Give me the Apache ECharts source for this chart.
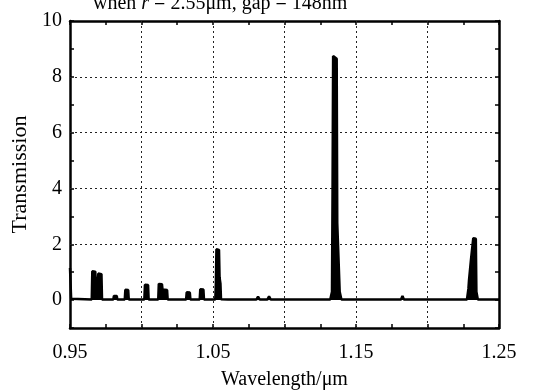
<!DOCTYPE html>
<html>
<head>
<meta charset="utf-8">
<script src="https://cdn.jsdelivr.net/npm/echarts@6/dist/echarts.min.js"></script>
<style>html,body{margin:0;padding:0;background:#fff}#c{width:539px;height:390px}</style>
</head>
<body>
<div id="c"></div>
<script>
// Wavelength (um) and transmission samples
var wavelength = [
  0.9500,0.9504,0.9508,0.9520,
  0.9652,0.9656,0.9677,0.9681,
  0.9694,0.9698,0.9720,0.9724,
  0.9803,0.9807,0.9827,0.9831,
  0.9883,0.9887,0.9907,0.9911,
  1.0020,1.0024,1.0046,1.0050,
  1.0117,1.0121,1.0143,1.0147,1.0179,1.0183,
  1.0312,1.0316,1.0338,1.0342,
  1.0407,1.0411,1.0433,1.0437,
  1.0516,1.0520,1.0524,1.0542,1.0546,1.0552,1.0556,
  1.0605,1.0613,1.0621,
  1.0803,1.0815,1.0827,
  1.0880,1.0892,1.0904,
  1.0944,1.0950,1.0956,
  1.1275,1.1280,1.1285,
  1.1320,1.1332,1.1336,1.1340,1.1365,1.1369,1.1382,1.1386,1.1398,
  1.1815,1.1825,1.1835,
  1.2276,1.2286,1.2290,1.2300,1.2304,1.2316,1.2320,1.2338,1.2342,1.2352,
  1.2500
];
var transmission = [
  1.15,1.12,0.05,0.02,
  0.02,1.03,1.02,0.02,
  0.02,0.95,0.93,0.02,
  0.02,0.15,0.15,0.02,
  0.02,0.37,0.36,0.02,
  0.02,0.55,0.54,0.02,
  0.02,0.58,0.57,0.38,0.36,0.02,
  0.02,0.28,0.27,0.02,
  0.02,0.39,0.38,0.02,
  0.02,0.60,1.82,1.80,0.80,0.60,0.03,
  0.02,0.09,0.02,
  0.02,0.12,0.02,
  0.02,0.13,0.02,
  0.02,0.06,0.02,
  0.02,0.07,0.02,
  0.02,0.30,3.90,8.75,8.65,2.75,2.70,0.30,0.02,
  0.02,0.15,0.02,
  0.02,0.40,0.70,0.70,1.45,1.45,2.22,2.20,0.30,0.02,
  0.02
];
var xLabelValues = [0.95, 1.05, 1.15, 1.25];
var yLabelValues = [0, 2, 4, 6, 8, 10];
var xGridValues = [1.00, 1.05, 1.10, 1.15, 1.20];
var yGridValues = [2, 4, 6, 8];

var FONT = 'Liberation Serif';
var data = wavelength.map(function (w, i) { return [w, transmission[i]]; });
var gridStyle = { color: '#222', width: 1, type: [2, 3] };
var markData = xGridValues.map(function (v) { return { xAxis: v }; })
  .concat(yGridValues.map(function (v) { return { yAxis: v }; }));

function xFmt(v) {
  var r = Math.round(v * 1000);
  for (var i = 0; i < xLabelValues.length; i++) {
    if (Math.round(xLabelValues[i] * 1000) === r) return xLabelValues[i].toFixed(2);
  }
  return '';
}
function yFmt(v) {
  var r = Math.round(v);
  return yLabelValues.indexOf(r) >= 0 ? String(r) : '';
}

var chart = echarts.init(document.getElementById('c'), null, { renderer: 'canvas' });
var axisLine = { show: true, onZero: false, lineStyle: { color: '#000', width: 2.5 } };
var tick = { show: true, inside: true, length: 4, lineStyle: { color: '#000', width: 1.5 } };
chart.setOption({
  animation: false,
  backgroundColor: '#fff',
  grid: { left: 70, right: 40, top: 21, bottom: 62, containLabel: false, outerBoundsMode: 'none' },
  graphic: [{
    type: 'text', left: 93, top: -6,
    style: {
      text: '{a|when }{i|r}{a| = 2.55\u03bcm, gap = 148nm}',
      rich: {
        a: { fontFamily: FONT, fontSize: 20, fill: '#000' },
        i: { fontFamily: FONT, fontSize: 20, fontStyle: 'italic', fill: '#000' }
      }
    }
  }],
  xAxis: [{
    type: 'value', min: 0.95, max: 1.25, interval: 0.025, position: 'bottom',
    name: 'Wavelength/\u03bcm', nameLocation: 'middle', nameGap: 42,
    nameTextStyle: { fontFamily: FONT, fontSize: 20, color: '#000' },
    axisLine: axisLine, axisTick: tick,
    axisLabel: { formatter: xFmt, fontFamily: FONT, fontSize: 20, color: '#000', margin: 15, showMinLabel: true, showMaxLabel: true, hideOverlap: false },
    splitLine: { show: false }
  }, {
    type: 'value', min: 0.95, max: 1.25, interval: 0.025, position: 'top',
    axisLine: axisLine, axisTick: tick, axisLabel: { show: false }, splitLine: { show: false }
  }],
  yAxis: [{
    type: 'value', min: -1, max: 10, interval: 1, position: 'left',
    name: 'Transmission', nameLocation: 'middle', nameGap: 39, nameRotate: 90,
    nameTextStyle: { fontFamily: FONT, fontSize: 22, color: '#000' },
    axisLine: axisLine, axisTick: tick,
    axisLabel: { formatter: yFmt, fontFamily: FONT, fontSize: 20, color: '#000', margin: 8, showMinLabel: true, showMaxLabel: true },
    splitLine: { show: false }
  }, {
    type: 'value', min: -1, max: 10, interval: 1, position: 'right',
    axisLine: axisLine, axisTick: tick, axisLabel: { show: false }, splitLine: { show: false }
  }],
  series: [{
    type: 'line', xAxisIndex: 0, yAxisIndex: 0, data: data,
    symbol: 'none', silent: true,
    lineStyle: { color: '#000', width: 2.5 },
    areaStyle: { color: '#000', opacity: 1, origin: 0 },
    markLine: {
      silent: true, symbol: 'none', animation: false,
      label: { show: false }, lineStyle: gridStyle, z: 1,
      data: markData
    },
    z: 3
  }]
});
</script>
</body>
</html>
